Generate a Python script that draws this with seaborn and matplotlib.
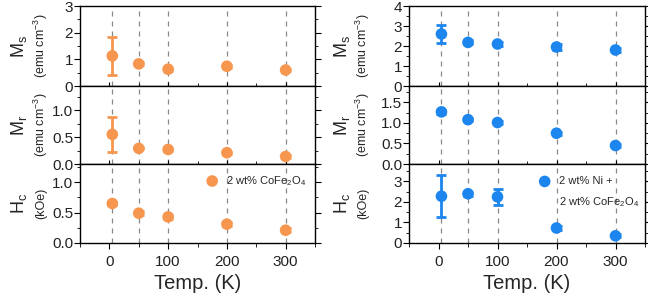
import numpy as np
import pandas as pd
import seaborn as sns
import matplotlib.pyplot as plt
from matplotlib.ticker import MultipleLocator

sns.set_style("white")
plt.rcParams['font.family'] = ['Liberation Sans', 'DejaVu Sans']
plt.rcParams['mathtext.fontset'] = 'custom'
plt.rcParams['mathtext.rm'] = 'Liberation Sans'
plt.rcParams['mathtext.it'] = 'Liberation Sans'

# temperatures (K)
temps = [5, 50, 100, 200, 300]

# 2 wt% CoFe2O4
ms_co = [1.13, 0.83, 0.63, 0.74, 0.60]
ms_co_err = [0.70, 0.06, 0.05, 0.06, 0.05]
mr_co = [0.55, 0.29, 0.27, 0.21, 0.14]
mr_co_err = [0.32, 0.02, 0.02, 0.02, 0.02]
hc_co = [0.65, 0.49, 0.43, 0.31, 0.21]
hc_co_err = [0.03, 0.03, 0.03, 0.03, 0.03]

# 2 wt% Ni + 2 wt% CoFe2O4
ms_ni = [2.60, 2.18, 2.10, 1.95, 1.80]
ms_ni_err = [0.45, 0.10, 0.08, 0.15, 0.08]
mr_ni = [1.27, 1.08, 1.01, 0.75, 0.45]
mr_ni_err = [0.04, 0.04, 0.03, 0.04, 0.04]
hc_ni = [2.28, 2.40, 2.25, 0.73, 0.35]
hc_ni_err = [1.02, 0.10, 0.38, 0.08, 0.08]

orange = '#F7964F'
blue = '#1C86EE'

fig = plt.figure(figsize=(6.48, 2.97), dpi=100)
W, H = 648, 297
tops = [6, 86, 164]
bots = [86, 164, 243]


def make_axes(x0, x1):
    axs = []
    for t, b in zip(tops, bots):
        axs.append(fig.add_axes([x0 / W, 1 - b / H, (x1 - x0) / W, (b - t) / H]))
    return axs


def style(ax, ylim, major, minor, bottom):
    ax.set_xlim(-50, 350)
    ax.set_ylim(*ylim)
    ax.xaxis.set_major_locator(MultipleLocator(100))
    ax.xaxis.set_minor_locator(MultipleLocator(50))
    ax.yaxis.set_major_locator(MultipleLocator(major))
    ax.yaxis.set_minor_locator(MultipleLocator(minor))
    for s in ax.spines.values():
        s.set_color('black')
        s.set_linewidth(1.0)
    ax.tick_params(axis='y', which='both', direction='out', left=True, right=True,
                   labelsize=11, color='black', labelcolor='#222222', pad=1)
    ax.tick_params(axis='y', which='major', length=4)
    ax.tick_params(axis='y', which='minor', length=2.5)
    ax.tick_params(axis='x', which='both', direction='inout', bottom=True, top=False,
                   labelbottom=bottom, labelsize=11, color='black', labelcolor='#222222')
    ax.tick_params(axis='x', which='major', length=6)
    ax.tick_params(axis='x', which='minor', length=4)
    if bottom:
        ax.tick_params(axis='x', which='both', direction='out')
        ax.tick_params(axis='x', which='major', length=4, pad=5)
        ax.tick_params(axis='x', which='minor', length=3)
    ax.set_xlabel('')
    ax.set_ylabel('')


def ylab(ax, xa, xb, big, small):
    ax.text(xa, 0.5, big, transform=ax.transAxes, rotation=90, ha='center', va='center',
            fontsize=13)
    ax.text(xb, 0.5, small, transform=ax.transAxes, rotation=90, ha='center', va='center',
            fontsize=9)


panels = [
    (80, 315, orange, [ms_co, mr_co, hc_co], [ms_co_err, mr_co_err, hc_co_err],
     [(0, 3), (0, 1.45), (0, 1.3)], [(1, 0.5), (0.5, 0.25), (0.5, 0.25)],
     'CoFe2O4', -0.26, -0.165),
    (409, 645, blue, [ms_ni, mr_ni, hc_ni], [ms_ni_err, mr_ni_err, hc_ni_err],
     [(0, 4), (0, 1.9), (0, 3.85)], [(1, 0.5), (0.5, 0.25), (1, 0.5)],
     'Ni', -0.285, -0.195),
]
labels = [('M$_\\mathregular{s}$', '(emu cm$^{\\mathregular{-3}}$)'),
          ('M$_\\mathregular{r}$', '(emu cm$^{\\mathregular{-3}}$)'),
          ('H$_\\mathregular{c}$', '(kOe)')]

for x0, x1, col, ys, errs, lims, locs, name, xa, xb in panels:
    axs = make_axes(x0, x1)
    for i, ax in enumerate(axs):
        for t in temps:
            ax.axvline(t, color='#888888', ls=(0, (4, 4)), lw=0.9, zorder=0)
        df = pd.DataFrame({'T': temps, 'v': ys[i], 'e': errs[i]})
        ax.errorbar(df['T'], df['v'], yerr=df['e'], fmt='none', ecolor=col,
                    elinewidth=2, capsize=3.5, capthick=2, zorder=2)
        sns.scatterplot(data=df, x='T', y='v', ax=ax, color=col, s=70,
                        edgecolor='none', zorder=3, legend=False)
        style(ax, lims[i], locs[i][0], locs[i][1], i == 2)
        ylab(ax, xa, xb, *labels[i])
    axs[2].set_xlabel('Temp. (K)', fontsize=14.5, labelpad=3)
    axs[2].set_xticks([0, 100, 200, 300])
    if name == 'CoFe2O4':
        axs[2].scatter([175], [1.02], s=70, color=col, edgecolor='none')
        axs[2].text(198, 1.02, '2 wt% CoFe$_\\mathregular{2}$O$_\\mathregular{4}$',
                    fontsize=8, va='center')
    else:
        axs[2].scatter([180], [3.0], s=70, color=col, edgecolor='none')
        axs[2].text(205, 3.0, '2 wt% Ni +', fontsize=8, va='center')
        axs[2].text(205, 2.0, '2 wt% CoFe$_\\mathregular{2}$O$_\\mathregular{4}$',
                    fontsize=8, va='center')

fig.savefig('out.png', dpi=100)
